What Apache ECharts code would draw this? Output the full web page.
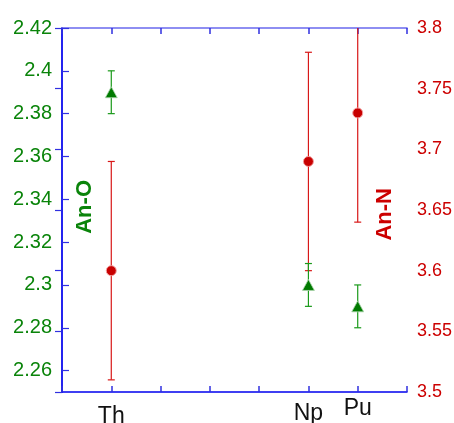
<!DOCTYPE html>
<html>
<head>
<meta charset="utf-8">
<script src="https://cdn.jsdelivr.net/npm/echarts@6/dist/echarts.min.js"></script>
<style>
html,body{margin:0;padding:0;background:#fff;}
#c{width:454px;height:423px;}
</style>
</head>
<body>
<div id="c"></div>
<script>
var categories = ['Th', 'Np', 'Pu'];
var positions = [1, 5, 6];
var anO = [2.39, 2.30, 2.29];
var anOErr = [0.01, 0.01, 0.01];
var anN = [3.60, 3.69, 3.73];
var anNErr = [0.09, 0.09, 0.09];
var leftTicks = [2.26, 2.28, 2.30, 2.32, 2.34, 2.36, 2.38, 2.40, 2.42];
var leftTitle = 'An-O';
var rightTitle = 'An-N';

var GREEN = '#0a840a';
var RED = '#cc0000';
var FONT = '"Liberation Sans", Arial, sans-serif';

function pts(vals) { return positions.map(function (x, i) { return [x, vals[i]]; }); }
function errData(vals, errs) { return positions.map(function (x, i) { return [x, vals[i] - errs[i], vals[i] + errs[i]]; }); }

function errRender(color) {
  return function (params, api) {
    var x = api.value(0);
    var lo = api.coord([x, api.value(1)]);
    var hi = api.coord([x, api.value(2)]);
    var w = 3.5;
    var st = { stroke: color, lineWidth: 1.2 };
    return {
      type: 'group',
      children: [
        { type: 'line', shape: { x1: lo[0], y1: lo[1], x2: hi[0], y2: hi[1] }, style: st },
        { type: 'line', shape: { x1: lo[0] - w, y1: lo[1], x2: lo[0] + w, y2: lo[1] }, style: st },
        { type: 'line', shape: { x1: hi[0] - w, y1: hi[1], x2: hi[0] + w, y2: hi[1] }, style: st }
      ]
    };
  };
}

var styleKeys = ['t', 'n', 'p'];

var chart = echarts.init(document.getElementById('c'));
chart.setOption({
  animation: false,
  grid: { left: 62, right: 47, top: 28, bottom: 31, containLabel: false, outerBoundsMode: 'none' },
  graphic: [{
    type: 'text', left: 74, top: 180, rotation: Math.PI / 2,
    style: { text: leftTitle, fill: GREEN, font: 'bold 22px ' + FONT }
  }, {
    type: 'text', left: 374, top: 188, rotation: Math.PI / 2,
    style: { text: rightTitle, fill: RED, font: 'bold 22px ' + FONT }
  }],
  xAxis: [{
    type: 'value', min: 0, max: 7, interval: 1, position: 'bottom',
    axisLine: { lineStyle: { color: '#0000ee', width: 1.5 } },
    axisTick: { inside: true, length: 6, lineStyle: { color: '#3030e0', width: 1.5 } },
    splitLine: { show: false },
    axisLabel: {
      margin: 5, color: '#111', fontSize: 23, fontFamily: FONT,
      formatter: function (v) {
        var i = positions.indexOf(v);
        if (i < 0) return '';
        return '{' + styleKeys[i] + '|' + categories[i] + '}';
      },
      rich: {
        t: { fontSize: 23, fontFamily: FONT, color: '#111', padding: [8, 0, 0, 0] },
        n: { fontSize: 23, fontFamily: FONT, color: '#111', padding: [5, 0, 0, 0] },
        p: { fontSize: 23, fontFamily: FONT, color: '#111', padding: [0, 0, 0, 0] }
      }
    }
  }, {
    type: 'value', min: 0, max: 7, interval: 1, position: 'top',
    axisLine: { lineStyle: { color: '#6a6aee', width: 1.5 } },
    axisTick: { inside: true, length: 6, lineStyle: { color: '#3030e0', width: 1.5 } },
    axisLabel: { show: false },
    splitLine: { show: false }
  }],
  yAxis: [{
    type: 'value', min: 2.25, max: 2.42, position: 'left',
    axisLine: { show: true, lineStyle: { color: '#6a6aee', width: 1.5 } },
    axisTick: { show: true, inside: true, length: 7, customValues: leftTicks, lineStyle: { color: '#3030e0', width: 1.2 } },
    axisLabel: {
      customValues: leftTicks, margin: 10, color: GREEN, fontSize: 20, fontFamily: FONT,
      padding: [0, 0, 7, 0],
      formatter: function (v) { return String(parseFloat(v.toFixed(2))); }
    },
    splitLine: { show: false }
  }, {
    type: 'value', min: 3.5, max: 3.8, interval: 0.05, position: 'right',
    axisLine: { show: true, lineStyle: { color: '#0000ee', width: 1.5 } },
    axisTick: { show: true, inside: true, length: 7, lineStyle: { color: '#3030e0', width: 1.2 } },
    axisLabel: {
      margin: 10, color: RED, fontSize: 18, fontFamily: FONT, padding: [0, 0, 6, 0],
      formatter: function (v) { return String(parseFloat(v.toFixed(2))); }
    },
    splitLine: { show: false }
  }],
  series: [{
    type: 'custom', xAxisIndex: 0, yAxisIndex: 1, clip: true, z: 2,
    renderItem: errRender('#d81818'),
    data: errData(anN, anNErr)
  }, {
    type: 'custom', xAxisIndex: 0, yAxisIndex: 0, clip: true, z: 2,
    renderItem: errRender('#1a9a1a'),
    data: errData(anO, anOErr)
  }, {
    type: 'scatter', xAxisIndex: 0, yAxisIndex: 1, z: 3,
    symbol: 'circle', symbolSize: 10,
    itemStyle: { color: '#c80000', borderColor: '#f2a0a0', borderWidth: 1, opacity: 1 },
    data: pts(anN)
  }, {
    type: 'scatter', xAxisIndex: 0, yAxisIndex: 0, z: 3,
    symbol: 'triangle', symbolSize: [12, 11],
    itemStyle: { color: '#007a00', borderColor: '#b0d8b0', borderWidth: 0.8, opacity: 1 },
    data: pts(anO)
  }]
});
</script>
</body>
</html>
